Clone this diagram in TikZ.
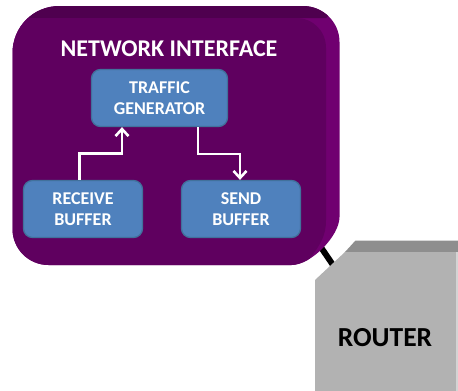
\documentclass[tikz,border=0pt]{standalone}
\usepackage{fontspec}
\setmainfont{Carlito}
\usetikzlibrary{arrows.meta}
\definecolor{niFront}{HTML}{5F005F}
\definecolor{niTop}{HTML}{4F004F}
\definecolor{niSide}{HTML}{700070}
\definecolor{boxFill}{HTML}{4F81BD}
\definecolor{boxEdge}{HTML}{41719C}
\definecolor{rtFront}{HTML}{B2B2B2}
\definecolor{rtTop}{HTML}{8E8E8E}
\definecolor{rtSide}{HTML}{D4D4D4}
\tikzset{
  bufbox/.style={draw=boxEdge,line width=1.3pt,fill=boxFill,rounded corners=9pt,
    text=white,font=\fontsize{18}{21}\selectfont\bfseries,align=center,inner sep=0pt},
  flow/.style={draw=white,line width=2.6pt,-{Straight Barb[length=7pt,width=13pt,line width=2.6pt]}},
  link/.style={draw=black,line width=6pt}
}
\newcommand{\niOutline}{(12.5,53) .. controls (12.5,27) and (33,6) .. (59.5,6) -- (303,6) .. controls (323,6) and (339.5,22) .. (339.5,42) -- (339.5,217) .. controls (339.5,236) and (311,265) .. (291.5,265) -- (48.5,265) .. controls (28.6,265) and (12.5,249) .. (12.5,229) -- cycle}
\begin{document}
\begin{tikzpicture}[x=1pt,y=-1pt]
\useasboundingbox (0,0) rectangle (458,391);
% connector behind the shapes
\coordinate (linkA) at (316,240);
\coordinate (linkB) at (333,265);
\draw[link] (linkA) -- (linkB);
% network interface
\fill[niSide] \niOutline;
\begin{scope}
  \clip \niOutline;
  \fill[niTop] (0,0) -- (345,0) -- (326,18) -- (0,18) -- cycle;
  \fill[niFront] (0,18) -- (296,18) .. controls (313,18) and (326,31) .. (326,48) -- (326,220) .. controls (326,235) and (322,245) .. (300,270) -- (0,270) -- cycle;
\end{scope}
\node[font=\fontsize{24}{28}\selectfont\bfseries,text=white,inner sep=0pt] (title) at (169,49) {NETWORK INTERFACE};
% inner boxes
\node[bufbox,minimum width=136pt,minimum height=57pt] (traffic) at (159.5,98) {TRAFFIC\\GENERATOR};
\node[bufbox,minimum width=119pt,minimum height=57pt] (recv) at (83,209) {RECEIVE\\BUFFER};
\node[bufbox,minimum width=119pt,minimum height=57pt] (send) at (241,209) {SEND\\BUFFER};
% arrows
\draw[flow] ([xshift=-3.5pt]recv.north) -- ++(0,-26.5) -| ([xshift=-37.5pt]traffic.south);
\draw[flow] ([xshift=38.5pt]traffic.south) -- ++(0,27) -| ([xshift=-1pt]send.north);
% router
\fill[rtTop] (345,252) -- (355.5,240.5) -- (458,240.5) -- (458,252) -- cycle;
\fill[rtFront] (315,280) -- (345,252) -- (456,252) -- (456,391) -- (315,391) -- cycle;
\fill[rtSide] (456,252) rectangle (458,391);
\node[font=\fontsize{27.5}{30}\selectfont\bfseries,text=black,inner sep=0pt] (router) at (385,338) {ROUTER};
\end{tikzpicture}
\end{document}
